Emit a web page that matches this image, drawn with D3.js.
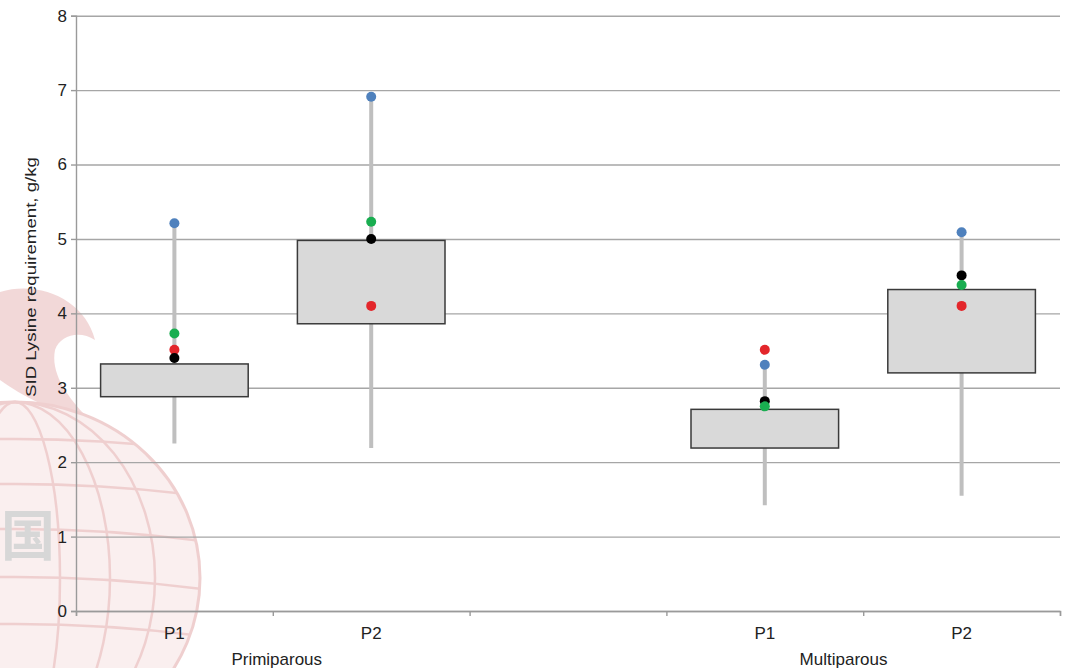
<!DOCTYPE html>
<html>
<head>
<meta charset="utf-8">
<script src="https://cdn.jsdelivr.net/npm/d3@7"></script>
<style>
  body { margin: 0; background: #fff; }
  svg { display: block; font-family: "Liberation Sans", Arial, sans-serif; }
</style>
</head>
<body>
<div id="chart"></div>
<script>
const width = 1072;
const height = 668;
const margin = ({ top: 15.7, right: 12, bottom: 57, left: 76 });

// categories (slot 2 is the empty gap between the groups)
const parity = ["P1", "P2", "", "P1", "P2"];
const groupNames = ["Primiparous", "Multiparous"];
const groupCenters = [1.02, 3.9]; // in slot units, as placed in the original
const yTicks = [0, 1, 2, 3, 4, 5, 6, 7, 8];

// box and whisker values, g/kg
const q1 = [2.88, 3.86, null, 2.19, 3.20];
const q3 = [3.32, 4.98, null, 2.71, 4.32];
const whiskerLow = [2.25, 2.19, null, 1.42, 1.55];
const whiskerHigh = [5.21, 6.91, null, 3.31, 5.09];

// point estimates
const blue = [5.21, 6.91, null, 3.31, 5.09];
const red = [3.51, 4.10, null, 3.51, 4.10];
const black = [3.40, 5.00, null, 2.82, 4.51];
const green = [3.73, 5.23, null, 2.75, 4.38];

const series = [
  { values: blue, color: "#4f81bd" },
  { values: red, color: "#e3262b" },
  { values: black, color: "#000000" },
  { values: green, color: "#19ad50" }
];

const svg = d3.select("#chart")
  .append("svg")
  .attr("width", width)
  .attr("height", height);

// faint watermark behind the chart
const wm = svg.append("g").attr("opacity", 0.55);
wm.append("path")
  .attr("d", "M0,292 C40,280 85,300 95,340 C80,330 60,335 55,350 C50,375 70,400 90,420 C60,415 20,395 0,380 Z")
  .attr("fill", "#e9b9b9");
wm.append("ellipse")
  .attr("cx", 15).attr("cy", 578).attr("rx", 185).attr("ry", 176)
  .attr("fill", "#f6e2e2").attr("stroke", "#e3a9a9").attr("stroke-width", 3);
[140, 95, 45].forEach(rx => {
  wm.append("ellipse")
    .attr("cx", 15).attr("cy", 578).attr("rx", rx).attr("ry", 176)
    .attr("fill", "none").attr("stroke", "#e3a9a9").attr("stroke-width", 2.5);
});
wm.append("clipPath").attr("id", "globe")
  .append("ellipse").attr("cx", 15).attr("cy", 578).attr("rx", 185).attr("ry", 176);
[440, 485, 530, 578, 625].forEach(yy => {
  wm.append("path")
    .attr("clip-path", "url(#globe)")
    .attr("d", `M-180,${yy + 12} Q15,${yy - 14} 210,${yy + 12}`)
    .attr("fill", "none").attr("stroke", "#e3a9a9").attr("stroke-width", 2.5);
});
wm.append("text")
  .attr("x", 28).attr("y", 556)
  .attr("text-anchor", "middle")
  .attr("font-family", "Noto Sans CJK SC")
  .attr("font-weight", "bold")
  .attr("font-size", 54)
  .attr("fill", "#b8b8b8")
  .text("国");

// scales
const x = d3.scaleLinear()
  .domain([0, parity.length])
  .range([margin.left, width - margin.right]);

const y = d3.scaleLinear()
  .domain([0, 8])
  .range([height - margin.bottom, margin.top]);

const slotWidth = x(1) - x(0);
const boxWidth = slotWidth * 0.75;

// gridlines
svg.append("g")
  .attr("transform", `translate(${margin.left},0)`)
  .call(d3.axisLeft(y).tickValues(yTicks).tickSize(-(width - margin.left - margin.right)).tickFormat(""))
  .call(g => g.select(".domain").remove())
  .call(g => g.selectAll("line").attr("stroke", "#a6a6a6").attr("stroke-width", 1.4));

// y axis
svg.append("g")
  .attr("transform", `translate(${margin.left},0)`)
  .call(d3.axisLeft(y).tickValues(yTicks).tickSize(5).tickPadding(4).tickFormat(d3.format("d")))
  .call(g => g.select(".domain").attr("stroke", "#9a9a9a").attr("stroke-width", 1.4))
  .call(g => g.selectAll("line").attr("stroke", "#9a9a9a").attr("stroke-width", 1.4))
  .call(g => g.selectAll("text").attr("font-size", 17).attr("fill", "#222").attr("font-family", "Liberation Sans, Arial, sans-serif"));

// x axis with ticks on slot boundaries
svg.append("g")
  .attr("transform", `translate(0,${y(0)})`)
  .call(d3.axisBottom(x).tickValues(d3.range(parity.length + 1)).tickSize(5).tickFormat(""))
  .call(g => g.select(".domain").attr("stroke", "#9a9a9a").attr("stroke-width", 1.4))
  .call(g => g.selectAll("line").attr("stroke", "#9a9a9a").attr("stroke-width", 1.4));

// category labels
svg.append("g")
  .selectAll("text")
  .data(parity)
  .join("text")
  .attr("x", (d, i) => x(i + 0.5))
  .attr("y", y(0) + 28)
  .attr("text-anchor", "middle")
  .attr("font-size", 17)
  .attr("fill", "#222")
  .text(d => d);

svg.append("g")
  .selectAll("text")
  .data(groupNames)
  .join("text")
  .attr("x", (d, i) => x(groupCenters[i]))
  .attr("y", y(0) + 54)
  .attr("text-anchor", "middle")
  .attr("font-size", 17)
  .attr("fill", "#222")
  .text(d => d);

// y axis title
svg.append("text")
  .attr("transform", `translate(36,277) rotate(-90)`)
  .attr("text-anchor", "middle")
  .attr("font-size", 15)
  .attr("textLength", 240)
  .attr("lengthAdjust", "spacingAndGlyphs")
  .attr("fill", "#222")
  .text("SID Lysine requirement, g/kg");

const idx = d3.range(parity.length).filter(i => q1[i] !== null);

// whiskers
svg.append("g")
  .selectAll("line")
  .data(idx)
  .join("line")
  .attr("x1", i => x(i + 0.5))
  .attr("x2", i => x(i + 0.5))
  .attr("y1", i => y(whiskerLow[i]))
  .attr("y2", i => y(whiskerHigh[i]))
  .attr("stroke", "#bfbfbf")
  .attr("stroke-width", 4);

// boxes
svg.append("g")
  .selectAll("rect")
  .data(idx)
  .join("rect")
  .attr("x", i => x(i + 0.5) - boxWidth / 2)
  .attr("width", boxWidth)
  .attr("y", i => y(q3[i]))
  .attr("height", i => y(q1[i]) - y(q3[i]))
  .attr("fill", "#d9d9d9")
  .attr("stroke", "#3a3a3a")
  .attr("stroke-width", 1.5);

// points
series.forEach(s => {
  svg.append("g")
    .selectAll("circle")
    .data(idx)
    .join("circle")
    .attr("cx", i => x(i + 0.5))
    .attr("cy", i => y(s.values[i]))
    .attr("r", 5)
    .attr("fill", s.color);
});
</script>
</body>
</html>
